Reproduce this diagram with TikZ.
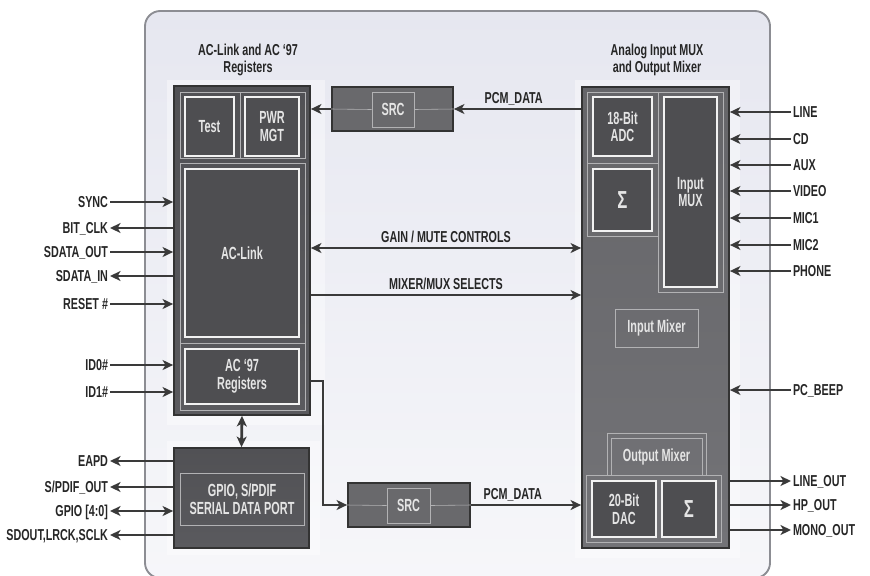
\documentclass[tikz,border=0pt]{standalone}
\usepackage{fontspec}
\setmainfont{Liberation Sans}[FakeStretch=0.68]
\usetikzlibrary{arrows.meta,positioning,fit,calc}

\definecolor{panelbg}{HTML}{E6E7F0}
\definecolor{framegray}{HTML}{8C8D93}
\definecolor{blockdark}{HTML}{5A5A5E}
\definecolor{blockmid}{HTML}{737377}
\definecolor{celldark}{HTML}{4E4E51}
\definecolor{srcgray}{HTML}{69696C}
\definecolor{wire}{HTML}{3A3A3A}

\begin{document}
\begin{tikzpicture}[
    x=0.03cm, y=-0.03cm,
    font=\bfseries\fontsize{13.5}{15}\selectfont,
    >={Stealth[length=9pt, width=8.5pt, inset=2.5pt]},
    frame/.style={draw=framegray, line width=1.6pt, rounded corners=13pt, top color=panelbg, bottom color=panelbg!35!white, inner sep=0pt},
    backdrop/.style={fill=white, fill opacity=0.4, inner sep=0pt},
    block/.style={draw=black!80, line width=1.5pt, top color=blockdark!90!black, bottom color=blockdark, inner sep=0pt},
    mixblock/.style={draw=black!80, line width=1.5pt, top color=blockmid!88!black, bottom color=blockmid, inner sep=0pt},
    srcbox/.style={draw=black!80, line width=1.5pt, fill=srcgray, inner sep=0pt},
    cell/.style={draw=white!95!black, line width=1.5pt, fill=celldark, inner sep=0pt},
    ghost/.style={draw=white!45!blockmid, line width=0.5pt, inner sep=0pt},
    celltext/.style={text=white!90!black, align=center, inner sep=0pt, font={\addfontfeatures{FakeStretch=0.62}\bfseries\fontsize{15}{15}\selectfont}},
    title/.style={align=center, text=black!85},
    sig/.style={text=black!85, inner sep=1.5pt, text depth=0pt},
    sigma/.style={font={\bfseries\fontsize{21}{21}\selectfont}},
    bus/.style={draw=wire, line width=2.4pt},
    tap/.style={draw=wire, line width=2pt}
]
    \useasboundingbox (0,0) rectangle (870,575);
    \clip (0,0) rectangle (870,575);

    % Nodes
    \node[frame, fit={(145,11) (770,578)}] (chip) {};
    \node[backdrop, fit={(167,80) (325,425)}] (lback) {};
    \node[backdrop, fit={(167,441) (320,555)}] (gback) {};
    \node[backdrop, fit={(575,80) (740,558)}] (rback) {};

    \node[title] (ltitle) at (248,60) {AC-Link and AC ‘97\\Registers};
    \node[title] (rtitle) at (657,60) {Analog Input MUX\\and Output Mixer};

    % left block
    \node[block, fit={(174,86) (310,415)}] (lblock) {};
    \node[ghost, fit={(180,92) (240,158)}] (testpanel) {};
    \node[ghost, fit={(240,92) (305,158)}] (pwrpanel) {};
    \node[ghost, fit={(180,163) (305,343)}] (linkpanel) {};
    \node[ghost, fit={(180,343) (305,410)}] (regpanel) {};
    \node[cell, fit={(185,97) (234,156)}, label={[celltext]center:Test}] (test) {};
    \node[cell, fit={(245,97) (299,156)}, label={[celltext]center:PWR\\MGT}] (pwr) {};
    \node[cell, fit={(185,169) (299,337)}, label={[celltext]center:AC-Link}] (aclink) {};
    \node[cell, fit={(185,349) (299,404)}, label={[celltext]center:AC ‘97\\Registers}] (regs) {};

    % gpio block
    \node[block, fit={(174,448) (309,548)}] (gpio) {};
    \node[ghost, fit={(180,473) (304,525)}, label={[celltext]center:GPIO, S/PDIF\\SERIAL DATA PORT}] (gpioport) {};

    % sample rate converters
    \node[srcbox, fit={(332,87) (453,131)}] (srctop) {};
    \node[ghost, fit={(372,92) (414,127)}, label={[celltext]center:SRC}] (srctopin) {};
    \node[srcbox, fit={(348,483) (470,527)}] (srcbot) {};
    \node[ghost, fit={(387,488) (430,523)}, label={[celltext]center:SRC}] (srcbotin) {};
    \draw[ghost] (srctop.west) -- (srctopin.west) (srctopin.east) -- (srctop.east);
    \draw[ghost] (srcbot.west) -- (srcbotin.west) (srcbotin.east) -- (srcbot.east);

    % mixer block
    \node[mixblock, fit={(582,87) (729,548)}] (mixer) {};
    \node[ghost, fit={(587,92) (658,163)}] (adcpanel) {};
    \node[ghost, fit={(587,163) (658,236)}] (sumpanel) {};
    \node[ghost, fit={(658,92) (723,292)}] (muxpanel) {};
    \node[cell, fit={(593,97) (652,156)}, label={[celltext]center:18-Bit\\ADC}] (adc) {};
    \node[cell, fit={(593,169) (652,231)}, label={[celltext, sigma]center:Σ}] (suma) {};
    \node[cell, fit={(664,97) (717,287)}, label={[celltext]center:Input\\MUX}] (inmux) {};
    \node[ghost, fit={(615,309) (698,347)}, label={[celltext]center:Input Mixer}] (inmix) {};
    \node[ghost, fit={(607,433) (706,475)}] (outmixpanel) {};
    \node[ghost, fit={(611,438) (702,475)}, label={[celltext]center:Output Mixer}] (outmix) {};
    \node[ghost, fit={(586,475) (721,542)}] (dacpanel) {};
    \node[cell, fit={(592,481) (656,537)}, label={[celltext]center:20-Bit\\DAC}] (dac) {};
    \node[cell, fit={(662,481) (716,537)}, label={[celltext, sigma]center:Σ}] (sumb) {};

    % left signals
    \node[sig, anchor=east] (sync) at (110,202) {SYNC};
    \node[sig, anchor=east] (bitclk) at (110,228) {BIT\_CLK};
    \node[sig, anchor=east] (sdout) at (110,252) {SDATA\_OUT};
    \node[sig, anchor=east] (sdin) at (110,276) {SDATA\_IN};
    \node[sig, anchor=east] (reset) at (110,304) {RESET \#};
    \node[sig, anchor=east] (idzero) at (110,365) {ID0\#};
    \node[sig, anchor=east] (idone) at (110,392) {ID1\#};
    \node[sig, anchor=east] (eapd) at (110,461) {EAPD};
    \node[sig, anchor=east] (spdif) at (110,487) {S/PDIF\_OUT};
    \node[sig, anchor=east] (gpiopins) at (110,511) {GPIO [4:0]};
    \node[sig, anchor=east] (serial) at (110,535) {SDOUT,LRCK,SCLK};

    % right signals
    \node[sig, anchor=west] (line) at (791,112) {LINE};
    \node[sig, anchor=west] (cd) at (791,139) {CD};
    \node[sig, anchor=west] (aux) at (791,165) {AUX};
    \node[sig, anchor=west] (video) at (791,191) {VIDEO};
    \node[sig, anchor=west] (micone) at (791,218) {MIC1};
    \node[sig, anchor=west] (mictwo) at (791,245) {MIC2};
    \node[sig, anchor=west] (phone) at (791,271) {PHONE};
    \node[sig, anchor=west] (beep) at (791,390) {PC\_BEEP};
    \node[sig, anchor=west] (lineout) at (791,481) {LINE\_OUT};
    \node[sig, anchor=west] (hpout) at (791,505) {HP\_OUT};
    \node[sig, anchor=west] (monoout) at (791,530) {MONO\_OUT};

    \coordinate (gain) at (0,248);
    \coordinate (select) at (0,295);
    \coordinate (regtap) at (310,381);

    % Links
    \draw[bus, ->] (sync.east) -- (sync.east -| lblock.west);
    \draw[bus, <-] (bitclk.east) -- (bitclk.east -| lblock.west);
    \draw[bus, ->] (sdout.east) -- (sdout.east -| lblock.west);
    \draw[bus, <-] (sdin.east) -- (sdin.east -| lblock.west);
    \draw[bus, ->] (reset.east) -- (reset.east -| lblock.west);
    \draw[bus, ->] (idzero.east) -- (idzero.east -| lblock.west);
    \draw[bus, ->] (idone.east) -- (idone.east -| lblock.west);
    \draw[bus, <-] (eapd.east) -- (eapd.east -| gpio.west);
    \draw[bus, <-] (spdif.east) -- (spdif.east -| gpio.west);
    \draw[bus, <->] (gpiopins.east) -- (gpiopins.east -| gpio.west);
    \draw[bus, <-] (serial.east) -- (serial.east -| gpio.west);

    \draw[bus, <-] (line.west -| mixer.east) -- (line.west);
    \draw[bus, <-] (cd.west -| mixer.east) -- (cd.west);
    \draw[bus, <-] (aux.west -| mixer.east) -- (aux.west);
    \draw[bus, <-] (video.west -| mixer.east) -- (video.west);
    \draw[bus, <-] (micone.west -| mixer.east) -- (micone.west);
    \draw[bus, <-] (mictwo.west -| mixer.east) -- (mictwo.west);
    \draw[bus, <-] (phone.west -| mixer.east) -- (phone.west);
    \draw[bus, <-] (beep.west -| mixer.east) -- (beep.west);
    \draw[bus, ->] (lineout.west -| mixer.east) -- (lineout.west);
    \draw[bus, ->] (hpout.west -| mixer.east) -- (hpout.west);
    \draw[bus, ->] (monoout.west -| mixer.east) -- (monoout.west);

    \draw[bus, ->] (srctop.east -| mixer.west) -- node[sig, above=2pt, pos=0.53] {PCM\_DATA} (srctop.east);
    \draw[bus, ->] (srctop.west) -- (srctop.west -| lblock.east);
    \draw[bus, <->] (gain -| lblock.east) -- node[sig, above=2pt] {GAIN / MUTE CONTROLS} (gain -| mixer.west);
    \draw[bus, ->] (select -| lblock.east) -- node[sig, above=2pt] {MIXER/MUX SELECTS} (select -| mixer.west);
    \draw[bus, <->] (lblock.south) -- (gpio.north);
    \draw[tap, ->] (regtap) -- ++(13,0) |- (srcbot.west);
    \draw[bus, ->] (srcbot.east) -- node[sig, above=2pt, pos=0.38] {PCM\_DATA} (srcbot.east -| mixer.west);
\end{tikzpicture}
\end{document}
